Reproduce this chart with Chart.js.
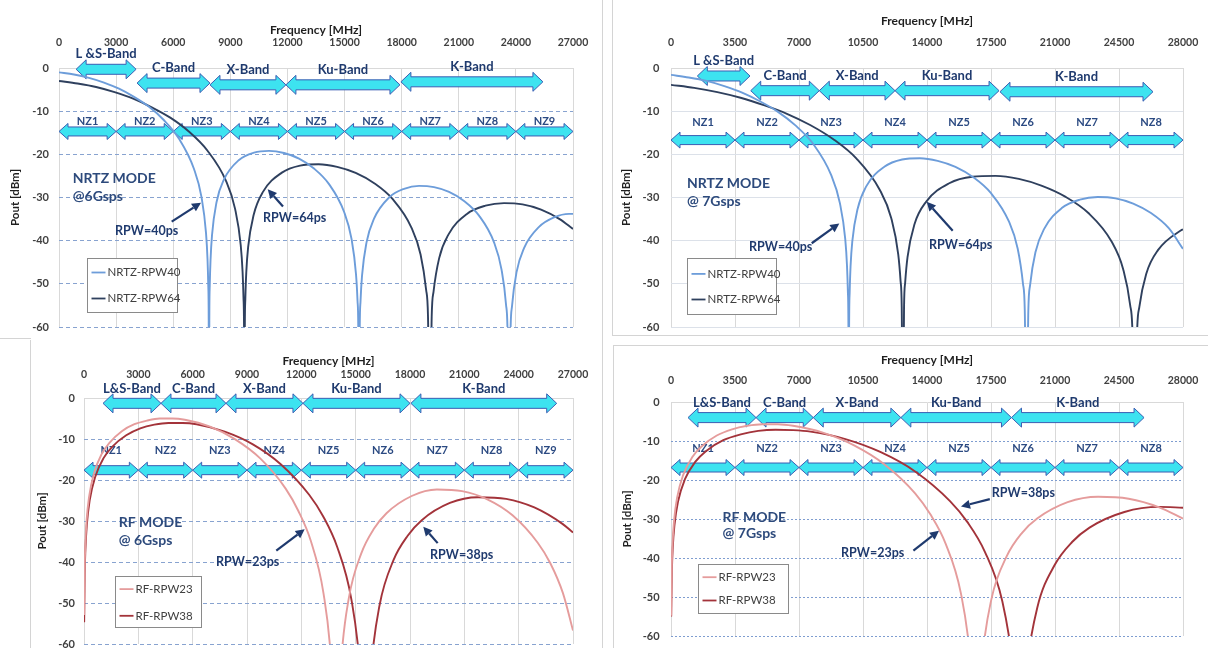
<!DOCTYPE html>
<html>
<head>
<meta charset="utf-8">
<script src="https://cdn.jsdelivr.net/npm/chart.js@4.4.1/dist/chart.umd.min.js"></script>
<style>
html, body { margin: 0; padding: 0; background: #fff; width: 1208px; height: 648px; overflow: hidden; }
canvas { position: absolute; }
.rule { position: absolute; background: #d4d4d4; }
</style>
</head>
<body>
<div class="rule" style="left:602px;top:0;width:1px;height:648px"></div>
<div class="rule" style="left:0;top:338px;width:31px;height:1px"></div>
<div class="rule" style="left:612px;top:0;width:1px;height:336px"></div>
<div class="rule" style="left:612px;top:335px;width:596px;height:1px"></div>
<div class="rule" style="left:30px;top:340px;width:1px;height:308px"></div>
<div class="rule" style="left:613px;top:345px;width:595px;height:1px"></div>
<div class="rule" style="left:613px;top:345px;width:1px;height:303px"></div>
<canvas id="cTL" width="602" height="338" style="left:0;top:0"></canvas>
<canvas id="cTR" width="595" height="335" style="left:613px;top:0"></canvas>
<canvas id="cBL" width="571" height="310" style="left:31px;top:341px"></canvas>
<canvas id="cBR" width="594" height="302" style="left:614px;top:346px"></canvas>
<script>
// tick labels
const xTicks6G = [0, 3000, 6000, 9000, 12000, 15000, 18000, 21000, 24000, 27000];
const xTicks7G = [0, 3500, 7000, 10500, 14000, 17500, 21000, 24500, 28000];
const yTicks = [-60, -50, -40, -30, -20, -10, 0];

// bands and Nyquist zones
const bandNamesNrtz = ['L &S-Band', 'C-Band', 'X-Band', 'Ku-Band', 'K-Band'];
const bandNamesRf = ['L&S-Band', 'C-Band', 'X-Band', 'Ku-Band', 'K-Band'];
const bandStartTL = [900, 4100, 7930, 11920, 17960];
const bandEndTL = [4050, 7930, 11920, 17910, 25420];
const bandStartTR = [1440, 4360, 8110, 12250, 17990];
const bandEndTR = [4320, 8110, 12250, 17940, 26360];
const bandStartBL = [1050, 4250, 7840, 12090, 18050];
const bandEndBL = [4250, 7840, 12090, 18000, 26100];
const bandStartBR = [930, 4650, 7780, 12570, 18620];
const bandEndBR = [4650, 7780, 12570, 18620, 25870];
const nzNames6G = ['NZ1', 'NZ2', 'NZ3', 'NZ4', 'NZ5', 'NZ6', 'NZ7', 'NZ8', 'NZ9'];
const nzNames7G = ['NZ1', 'NZ2', 'NZ3', 'NZ4', 'NZ5', 'NZ6', 'NZ7', 'NZ8'];

// NRTZ mode @ 6Gsps
const freqNrtz6_40 = [0, 788, 1576, 2364, 3152, 3940, 4728, 5516, 6304, 7092, 7486, 7722, 7801, 7841, 7864, 7880, 7896, 7919, 7959, 8038, 8274, 8668, 9456, 10244, 11032, 11820, 12608, 13396, 14184, 14972, 15366, 15602, 15681, 15721, 15760, 15799, 15839, 15918, 16154, 16548, 17336, 18124, 18912, 19700, 20488, 21276, 22064, 22852, 23246, 23482, 23561, 23640, 23719, 23798, 24034, 24428, 25216, 26004, 26792, 27000];
const pwrNrtz6_40 = [-1.0, -1.5, -2.3, -3.4, -4.8, -6.7, -9.0, -12.1, -16.4, -23.4, -29.9, -38.2, -44.3, -50.4, -58.4, -90, -58.5, -50.5, -44.6, -38.7, -31.1, -25.8, -21.3, -19.6, -19.2, -19.7, -21.0, -23.3, -26.9, -33.3, -39.6, -47.8, -53.9, -59.9, -90, -60.0, -54.0, -48.1, -40.4, -34.9, -30.0, -28.0, -27.3, -27.6, -28.7, -30.8, -34.2, -40.4, -46.7, -54.8, -60.9, -90, -61.0, -55.1, -47.3, -41.7, -36.8, -34.6, -33.8, -33.8];
const freqNrtz6_64 = [0, 974, 1948, 2922, 3896, 4870, 5844, 6818, 7792, 8766, 9253, 9545, 9643, 9691, 9721, 9740, 9759, 9789, 9837, 9935, 10227, 10714, 11688, 12662, 13636, 14610, 15584, 16558, 17532, 18506, 18993, 19285, 19383, 19480, 19577, 19675, 19967, 20454, 21428, 22402, 23376, 24350, 25324, 26298, 27000];
const pwrNrtz6_64 = [-3.0, -3.6, -4.4, -5.6, -7.1, -9.1, -11.5, -14.7, -19.1, -26.1, -32.7, -41.0, -47.2, -53.2, -61.2, -90, -61.3, -53.4, -47.4, -41.5, -34.0, -28.7, -24.3, -22.6, -22.3, -22.9, -24.3, -26.7, -30.4, -36.9, -43.2, -51.4, -57.5, -90, -57.7, -51.8, -44.1, -38.6, -33.8, -31.9, -31.3, -31.6, -32.8, -35.0, -37.3];

// NRTZ mode @ 7Gsps
const freqNrtz7_40 = [0, 972, 1944, 2917, 3889, 4861, 5833, 6805, 7778, 8750, 9236, 9528, 9625, 9673, 9703, 9722, 9741, 9771, 9819, 9916, 10208, 10694, 11666, 12639, 13611, 14583, 15555, 16527, 17500, 18472, 18958, 19250, 19347, 19444, 19541, 19638, 19930, 20416, 21388, 22361, 23333, 24305, 25277, 26249, 27222, 28000];
const pwrNrtz7_40 = [-1.6, -2.2, -3.0, -4.2, -5.7, -7.7, -10.1, -13.3, -17.6, -24.7, -31.3, -39.6, -45.8, -51.8, -59.8, -90, -59.9, -52.0, -46.0, -40.1, -32.6, -27.3, -22.9, -21.2, -20.9, -21.5, -22.9, -25.3, -29.0, -35.5, -41.8, -50.0, -56.1, -90, -56.3, -50.3, -42.7, -37.2, -32.4, -30.5, -29.9, -30.2, -31.4, -33.6, -37.1, -41.9];
const freqNrtz7_64 = [0, 1268, 2536, 3804, 5072, 6341, 7609, 8877, 10145, 11413, 12047, 12427, 12554, 12618, 12681, 12744, 12808, 12935, 13315, 13949, 15217, 16485, 17753, 19022, 20290, 21558, 22826, 24094, 24728, 25108, 25235, 25362, 25489, 25616, 25996, 26630, 27898, 28000];
const pwrNrtz7_64 = [-3.9, -4.6, -5.6, -6.9, -8.6, -10.6, -13.2, -16.5, -21.0, -28.2, -34.8, -43.2, -49.3, -55.4, -90, -55.6, -49.6, -43.8, -36.2, -31.0, -26.7, -25.2, -25.0, -25.7, -27.3, -29.8, -33.6, -40.2, -46.6, -54.9, -61.0, -90, -61.2, -55.3, -47.6, -42.2, -37.6, -37.4];

// RF mode @ 6Gsps
const freqRf6_23 = [10, 35, 70, 139, 278, 557, 974, 1392, 2088, 2784, 3480, 4175, 4871, 5567, 6959, 8351, 9743, 11134, 11830, 12526, 13222, 13640, 13918, 14196, 14614, 15310, 16006, 16702, 18093, 19485, 20877, 22269, 23661, 25052, 25748, 26444, 27000];
const pwrRf6_23 = [-52.9, -42.1, -36.1, -30.1, -24.2, -18.3, -13.7, -11.0, -8.1, -6.4, -5.5, -5.0, -5.0, -5.3, -7.0, -10.1, -14.8, -22.1, -27.5, -34.9, -47.6, -63.9, -90, -64.5, -49.0, -37.9, -31.9, -28.1, -23.9, -22.3, -22.7, -24.7, -28.6, -35.3, -40.3, -47.6, -56.7];
const freqRf6_38 = [10, 39, 78, 155, 311, 622, 1088, 1554, 2331, 3108, 3885, 4662, 5439, 6216, 7770, 9324, 10878, 12432, 13209, 13986, 14763, 15229, 15540, 15851, 16317, 17094, 17871, 18648, 20202, 21756, 23310, 24864, 26418, 27000];
const pwrRf6_38 = [-54.7, -42.9, -37.0, -31.0, -25.0, -19.2, -14.6, -11.9, -9.1, -7.4, -6.5, -6.1, -6.1, -6.4, -8.2, -11.3, -16.2, -23.6, -28.9, -36.4, -49.1, -65.4, -90, -66.0, -50.6, -39.5, -33.6, -29.8, -25.6, -24.2, -24.6, -26.7, -30.7, -32.8];

// RF mode @ 7Gsps
const freqRf7_23 = [10, 42, 83, 167, 334, 667, 1168, 1669, 2503, 3337, 4172, 5006, 5840, 6674, 8343, 10012, 11680, 13349, 14183, 15017, 15852, 16352, 16686, 17020, 17520, 18355, 19189, 20023, 21692, 23360, 25029, 26698, 28000];
const pwrRf7_23 = [-54.8, -42.4, -36.4, -30.4, -24.5, -18.7, -14.1, -11.4, -8.6, -7.0, -6.1, -5.7, -5.7, -6.1, -7.9, -11.1, -16.0, -23.4, -28.8, -36.3, -49.0, -65.3, -90, -66.0, -50.6, -39.6, -33.6, -29.9, -25.7, -24.3, -24.8, -27.0, -29.9];
const freqRf7_38 = [10, 48, 95, 191, 381, 763, 1335, 1907, 2861, 3815, 4768, 5722, 6676, 7629, 9537, 11444, 13351, 15258, 16212, 17166, 18119, 18692, 19073, 19454, 20027, 20980, 21934, 22888, 24795, 26702, 28000];
const pwrRf7_38 = [-55.0, -43.5, -37.5, -31.5, -25.6, -19.8, -15.3, -12.6, -9.8, -8.3, -7.4, -7.1, -7.2, -7.6, -9.5, -12.8, -17.8, -25.4, -30.8, -38.4, -51.1, -67.5, -90, -68.2, -52.8, -41.8, -35.9, -32.2, -28.2, -26.9, -27.1];

const NAVY = '#1f3a6e';
Chart.defaults.font.family = 'Lato, "Open Sans", sans-serif';

const panels = [
    {
        canvas: 'cTL', xTicks: xTicks6G, gridColor: '#88a3d0', gridDash: [4, 3],
        lay: { yWidth: 59, xHeight: 68, padRight: 29, padBottom: 11, yTickPad: 10, xTickPad: 18.7, titlePad: 22.5, yTitlePad: 8 },
        series: [
            { label: 'NRTZ-RPW40', f: freqNrtz6_40, p: pwrNrtz6_40, color: '#6d9dda' },
            { label: 'NRTZ-RPW64', f: freqNrtz6_64, p: pwrNrtz6_64, color: '#2f405e' }
        ],
        bands: { names: bandNamesNrtz, start: bandStartTL, end: bandEndTL, level: [-0.3, -3.5, -3.9, -3.9, -3.2], up: 15 },
        nz: { names: nzNames6G, edges: xTicks6G, level: -14.7, up: 10 },
        mode: { lines: ['NRTZ MODE', '@6Gsps'], f: 720, v: [-25.7, -29.8] },
        pointers: [
            { text: 'RPW=40ps', f: 2942, v: -37.7, from: [5920, -35.6], to: [7460, -31.2] },
            { text: 'RPW=64ps', f: 10716, v: -34.75, from: [11767, -32.1], to: [10963, -28.1] }
        ],
        legend: { f: 1487, v: -43.9, w: 90, h: 54, rows: [14, 40] }
    },
    {
        canvas: 'cTR', xTicks: xTicks7G, gridColor: '#dce1e9', gridDash: [],
        lay: { yWidth: 58, xHeight: 68, padRight: 25, padBottom: 8, yTickPad: 11.7, xTickPad: 19, titlePad: 14, yTitlePad: 6.8 },
        series: [
            { label: 'NRTZ-RPW40', f: freqNrtz7_40, p: pwrNrtz7_40, color: '#6d9dda' },
            { label: 'NRTZ-RPW64', f: freqNrtz7_64, p: pwrNrtz7_64, color: '#2f405e' }
        ],
        bands: { names: bandNamesNrtz, start: bandStartTR, end: bandEndTR, level: [-1.85, -5.25, -5.25, -5.25, -5.5], up: 15 },
        nz: { names: nzNames7G, edges: xTicks7G, level: -16.7, up: 18 },
        mode: { lines: ['NRTZ MODE', '@ 7Gsps'], f: 875, v: [-26.7, -31.0] },
        pointers: [
            { text: 'RPW=40ps', f: 4266, v: -41.5, from: [7695, -40.6], to: [9205, -36.0] },
            { text: 'RPW=64ps', f: 14110, v: -41.0, from: [15406, -37.7], to: [13984, -31.0] }
        ],
        legend: { f: 891, v: -43.9, w: 89, h: 56, rows: [15.4, 41] }
    },
    {
        canvas: 'cBL', xTicks: xTicks6G, gridColor: '#88a3d0', gridDash: [4, 3],
        lay: { yWidth: 53, xHeight: 57, padRight: 29, padBottom: 7, yTickPad: 9, xTickPad: 17.4, titlePad: 13, yTitlePad: 4.1 },
        series: [
            { label: 'RF-RPW23', f: freqRf6_23, p: pwrRf6_23, color: '#e59c9c' },
            { label: 'RF-RPW38', f: freqRf6_38, p: pwrRf6_38, color: '#a3333a' }
        ],
        bands: { names: bandNamesRf, start: bandStartBL, end: bandEndBL, level: [-1.3, -1.3, -1.3, -1.3, -1.3], up: 15 },
        nz: { names: nzNames6G, edges: xTicks6G, level: -17.6, up: 20 },
        mode: { lines: ['RF MODE', '@ 6Gsps'], f: 1916, v: [-30.4, -34.8] },
        pointers: [
            { text: 'RPW=23ps', f: 7288, v: -39.9, from: [10617, -37.2], to: [12185, -32.0] },
            { text: 'RPW=38ps', f: 19103, v: -38.3, from: [19528, -35.4], to: [18733, -31.4] }
        ],
        legend: { f: 1700, v: -43.3, w: 86, h: 51, rows: [12.6, 39.3] }
    },
    {
        canvas: 'cBR', xTicks: xTicks7G, gridColor: '#7f9dd0', gridDash: [2, 2],
        lay: { yWidth: 57, xHeight: 56, padRight: 25, padBottom: 12, yTickPad: 11.4, xTickPad: 14.7, titlePad: 7.3, yTitlePad: 6.1 },
        series: [
            { label: 'RF-RPW23', f: freqRf7_23, p: pwrRf7_23, color: '#e59c9c' },
            { label: 'RF-RPW38', f: freqRf7_38, p: pwrRf7_38, color: '#a3333a' }
        ],
        bands: { names: bandNamesRf, start: bandStartBR, end: bandEndBR, level: [-4, -4, -4, -4, -4], up: 15 },
        nz: { names: nzNames7G, edges: xTicks7G, level: -16.8, up: 19 },
        mode: { lines: ['RF MODE', '@ 7Gsps'], f: 2822, v: [-29.6, -33.7] },
        pointers: [
            { text: 'RPW=23ps', f: 9297, v: -38.8, from: [13257, -38.1], to: [14657, -33.0] },
            { text: 'RPW=38ps', f: 17539, v: -23.4, from: [17435, -24.9], to: [15860, -26.8] }
        ],
        legend: { f: 1466, v: -41.5, w: 90, h: 49, rows: [12.7, 36] }
    }
];

function blockArrow(ctx, x1, x2, y, shaft, head, headLen) {
    const s = shaft / 2, h = head / 2;
    ctx.beginPath();
    ctx.moveTo(x1, y);
    ctx.lineTo(x1 + headLen, y - h);
    ctx.lineTo(x1 + headLen, y - s);
    ctx.lineTo(x2 - headLen, y - s);
    ctx.lineTo(x2 - headLen, y - h);
    ctx.lineTo(x2, y);
    ctx.lineTo(x2 - headLen, y + h);
    ctx.lineTo(x2 - headLen, y + s);
    ctx.lineTo(x1 + headLen, y + s);
    ctx.lineTo(x1 + headLen, y + h);
    ctx.closePath();
    ctx.fillStyle = '#3de3f0';
    ctx.fill();
    ctx.strokeStyle = '#3b5db3';
    ctx.lineWidth = 1;
    ctx.stroke();
}

function pointer(ctx, x1, y1, x2, y2) {
    const a = Math.atan2(y2 - y1, x2 - x1), L = 9, W = 4.5;
    const bx = x2 - L * Math.cos(a), by = y2 - L * Math.sin(a);
    ctx.strokeStyle = NAVY;
    ctx.fillStyle = NAVY;
    ctx.lineWidth = 2.2;
    ctx.beginPath();
    ctx.moveTo(x1, y1);
    ctx.lineTo(bx, by);
    ctx.stroke();
    ctx.beginPath();
    ctx.moveTo(x2, y2);
    ctx.lineTo(bx + W * Math.sin(a), by - W * Math.cos(a));
    ctx.lineTo(bx - W * Math.sin(a), by + W * Math.cos(a));
    ctx.closePath();
    ctx.fill();
}

function decor(P) {
    return {
        id: 'decor',
        beforeDatasetsDraw(chart) {
            const ctx = chart.ctx, xs = chart.scales.x, ys = chart.scales.y;
            ctx.save();
            ctx.textAlign = 'center';
            ctx.textBaseline = 'middle';
            P.bands.start.forEach((s, i) => {
                const x1 = xs.getPixelForValue(s), x2 = xs.getPixelForValue(P.bands.end[i]);
                const y = ys.getPixelForValue(P.bands.level[i]);
                blockArrow(ctx, x1, x2, y, 10, 19, 10);
                ctx.fillStyle = NAVY;
                ctx.font = 'bold 13px Lato';
                ctx.fillText(P.bands.names[i], (x1 + x2) / 2, y - P.bands.up);
            });
            P.nz.names.forEach((n, i) => {
                const x1 = xs.getPixelForValue(P.nz.edges[i]), x2 = xs.getPixelForValue(P.nz.edges[i + 1]);
                const y = ys.getPixelForValue(P.nz.level);
                blockArrow(ctx, x1, x2, y, 9, 16, 9);
                ctx.fillStyle = '#2b4a82';
                ctx.font = 'bold 11px Lato';
                ctx.fillText(n, (x1 + x2) / 2, y - P.nz.up);
            });
            ctx.restore();
        },
        afterDatasetsDraw(chart) {
            const ctx = chart.ctx, xs = chart.scales.x, ys = chart.scales.y;
            ctx.save();
            ctx.textAlign = 'left';
            ctx.textBaseline = 'middle';
            ctx.fillStyle = '#2d4a7c';
            ctx.font = 'bold 14px Lato';
            P.mode.lines.forEach((t, i) => ctx.fillText(t, xs.getPixelForValue(P.mode.f), ys.getPixelForValue(P.mode.v[i])));

            P.pointers.forEach(p => {
                ctx.fillStyle = NAVY;
                ctx.font = 'bold 12.5px Lato';
                ctx.fillText(p.text, xs.getPixelForValue(p.f), ys.getPixelForValue(p.v));
                pointer(ctx, xs.getPixelForValue(p.from[0]), ys.getPixelForValue(p.from[1]),
                    xs.getPixelForValue(p.to[0]), ys.getPixelForValue(p.to[1]));
            });

            // legend box
            const L = P.legend;
            const bx = Math.round(xs.getPixelForValue(L.f)) + 0.5, by = Math.round(ys.getPixelForValue(L.v)) + 0.5;
            ctx.fillStyle = '#fff';
            ctx.fillRect(bx, by, L.w, L.h);
            ctx.strokeStyle = '#8a8a8a';
            ctx.lineWidth = 1;
            ctx.strokeRect(bx, by, L.w, L.h);
            chart.data.datasets.forEach((d, i) => {
                const y = by + L.rows[i];
                ctx.strokeStyle = d.borderColor;
                ctx.lineWidth = 1.8;
                ctx.beginPath();
                ctx.moveTo(bx + 4, y);
                ctx.lineTo(bx + 18, y);
                ctx.stroke();
                ctx.fillStyle = '#404040';
                ctx.font = '11.5px Lato';
                ctx.fillText(d.label, bx + 20, y);
            });
            ctx.restore();
        }
    };
}

panels.forEach(P => {
    new Chart(document.getElementById(P.canvas), {
        type: 'line',
        data: {
            datasets: P.series.map(s => ({
                label: s.label,
                data: s.f.map((f, i) => ({ x: f, y: s.p[i] })),
                borderColor: s.color,
                borderWidth: 1.9,
                pointRadius: 0,
                cubicInterpolationMode: 'monotone',
                fill: false
            }))
        },
        options: {
            responsive: false,
            animation: false,
            devicePixelRatio: 1,
            layout: { padding: { left: 0, top: 0, right: P.lay.padRight, bottom: P.lay.padBottom } },
            plugins: { legend: { display: false }, tooltip: { enabled: false } },
            scales: {
                x: {
                    type: 'linear',
                    position: 'top',
                    min: 0,
                    max: P.xTicks[P.xTicks.length - 1],
                    afterBuildTicks: s => { s.ticks = P.xTicks.map(v => ({ value: v })); },
                    afterFit: s => { s.height = P.lay.xHeight; },
                    // invisible tick marks stand in for label padding
                    grid: { color: '#d9d9d9', drawTicks: true, tickLength: P.lay.xTickPad, tickColor: 'rgba(0,0,0,0)' },
                    border: { display: true, color: '#d9d9d9' },
                    ticks: {
                        padding: 0, maxRotation: 0, autoSkip: false,
                        color: '#404040', font: { weight: 'bold', size: 10.5 },
                        callback: v => String(v)
                    },
                    title: {
                        display: true, text: 'Frequency [MHz]', color: '#1f1f1f',
                        font: { weight: 'bold', size: 12 }, padding: { top: P.lay.titlePad, bottom: 0 }
                    }
                },
                y: {
                    min: -60,
                    max: 0,
                    afterBuildTicks: s => { s.ticks = yTicks.map(v => ({ value: v })); },
                    afterFit: s => { s.width = P.lay.yWidth; },
                    grid: {
                        drawTicks: true, tickLength: P.lay.yTickPad, tickColor: 'rgba(0,0,0,0)',
                        color: c => (c.tick && c.tick.value === 0) ? 'rgba(0,0,0,0)' : P.gridColor
                    },
                    border: { display: false, dash: P.gridDash },
                    ticks: {
                        padding: 0, color: '#404040',
                        font: { weight: 'bold', size: 11 }, callback: v => String(v)
                    },
                    title: {
                        display: true, text: 'Pout [dBm]', color: '#1f1f1f',
                        font: { weight: 'bold', size: 11.5 }, padding: { top: P.lay.yTitlePad, bottom: 0 }
                    }
                }
            }
        },
        plugins: [decor(P)]
    });
});
</script>
</body>
</html>
